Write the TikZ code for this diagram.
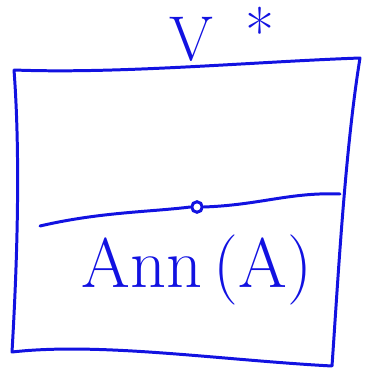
\documentclass[tikz,border=0pt]{standalone}
\usepackage{amsmath,amssymb}
\usepackage{tikz}
\usetikzlibrary{calc}
\definecolor{inkblue}{RGB}{18,18,225}
\tikzset{
  inkline/.style={draw=inkblue, line width=1.7pt, line cap=round, line join=round},
  inktext/.style={text=inkblue, inner sep=0pt},
  zerodot/.style={draw=inkblue, line width=1.7pt, circle, minimum size=6pt, inner sep=0pt},
}

\begin{document}
\begin{tikzpicture}[x=0.02cm, y=-0.02cm]
  \useasboundingbox (0,0) rectangle (374,382);
  % corners of the box
  \coordinate (tl) at (14,70);
  \coordinate (tr) at (360,58);
  \coordinate (br) at (332,366);
  \coordinate (bl) at (12,352);
  \draw[inkline] (tl) .. controls (120,74) and (250,62) .. (tr)
    .. controls (345,150) and (338,280) .. (br)
    .. controls (220,360) and (100,342) .. (bl)
    .. controls (18,250) and (20,150) .. (tl);
  % line through zero
  \coordinate (lineL) at (40,226);
  \coordinate (lineR) at (340,194);
  \node[zerodot] (zero) at (197,207) {};
  \draw[inkline] (lineL) .. controls (100,212) and (150,212) .. (zero.west);
  \draw[inkline] (zero.east) .. controls (260,205) and (290,192) .. (lineR);
  % labels
  \node[inktext, font=\fontsize{36}{36}\selectfont] (dual) at (222,34) {V\hspace{0.5em}\raisebox{0.1em}{*}};
  \node[inktext, font=\fontsize{40}{40}\selectfont] (ann) at (197,270) {Ann\,(A)};
\end{tikzpicture}
\end{document}
